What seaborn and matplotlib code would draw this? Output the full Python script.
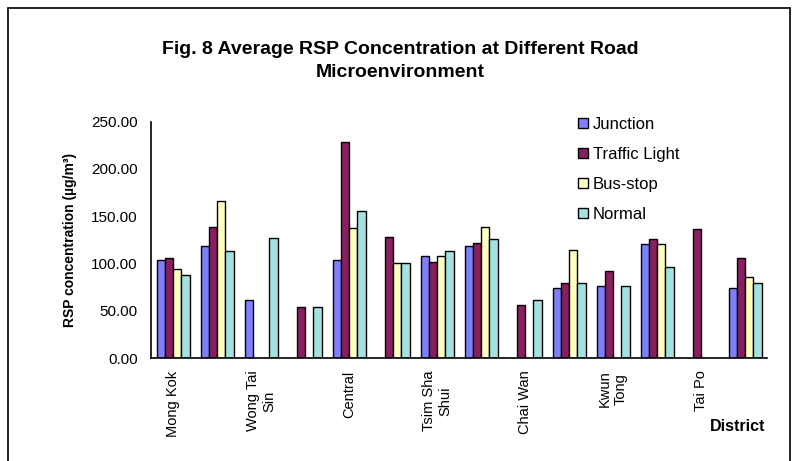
import matplotlib
matplotlib.use('Agg')
import matplotlib.pyplot as plt
import matplotlib.lines as mlines
import numpy as np
import pandas as pd
import seaborn as sns

# 14 sampling districts; Excel only labels every other category
tick_labels = ['Mong Kok', '', 'Wong Tai\nSin', '', 'Central', '', 'Tsim Sha\nShui', '',
               'Chai Wan', '', 'Kwun\nTong', '', 'Tai Po', '']
series = ['Junction', 'Traffic Light', 'Bus-stop', 'Normal']
nan = np.nan
junction = [104, 119, 61, nan, 104, nan, 108, 118, nan, 74, 76, 121, nan, 74]
traffic = [106, 139, nan, 54, 229, 128, 102, 122, 56, 79, 92, 126, 136, 106]
busstop = [94, 166, nan, nan, 138, 100, 108, 139, nan, 114, nan, 121, nan, 86]
normal = [88, 113, 127, 54, 156, 100, 113, 126, 61, 79, 76, 96, nan, 79]
yticks = [0, 50, 100, 150, 200, 250]

colors = {'Junction': '#8080ff', 'Traffic Light': '#862060',
          'Bus-stop': '#ffffc4', 'Normal': '#a4e2e2'}

rows = []
for name, vals in zip(series, [junction, traffic, busstop, normal]):
    for i, v in enumerate(vals):
        rows.append({'site': i, 'type': name, 'value': v})
df = pd.DataFrame(rows)

sns.set_style('white')
plt.rcParams['font.family'] = ['Liberation Sans', 'DejaVu Sans']
for k in ['text.color', 'axes.labelcolor', 'xtick.color', 'ytick.color']:
    plt.rcParams[k] = 'black'

fig = plt.figure(figsize=(8, 4.61), dpi=100)
ax = fig.add_axes([151 / 800, 1 - 358 / 461, 616 / 800, 236.3 / 461])

sns.barplot(data=df, x='site', y='value', hue='type', hue_order=series, palette=colors,
            width=0.75, edgecolor='black', linewidth=1, ax=ax, saturation=1)

ax.set_ylim(0, 250)
ax.set_xlim(-0.5, 13.5)
ax.set_yticks(yticks)
ax.set_yticklabels(['%.2f' % t for t in yticks], fontsize=11)
ax.set_xticks(range(14))
ax.set_xticklabels(tick_labels, rotation=90, fontsize=10.5, va='top', ha='center',
                   multialignment='center')
ax.tick_params(axis='x', which='major', length=0, pad=9)
ax.set_xticks(np.arange(-0.5, 14, 1), minor=True)
ax.tick_params(axis='x', which='minor', length=5, width=1, direction='out', color='black')
ax.tick_params(axis='y', length=9, width=1, direction='inout', color='black', pad=5)
ax.set_xlabel('')
ax.set_ylabel('RSP concentration (µg/m³)', fontsize=10, fontweight='bold', labelpad=10)
for s in ['top', 'right']:
    ax.spines[s].set_visible(False)
for s in ['left', 'bottom']:
    ax.spines[s].set_color('black')
    ax.spines[s].set_linewidth(1.2)

handles, labels = ax.get_legend_handles_labels()
ax.legend(handles, labels, loc='upper left', bbox_to_anchor=(0.675, 1.07), frameon=False,
          fontsize=12, labelspacing=0.9, handlelength=0.55, handleheight=0.55,
          handletextpad=0.3, borderaxespad=0.3)

fig.text(0.5, 1 - 61 / 461, 'Fig. 8 Average RSP Concentration at Different Road\nMicroenvironment',
         ha='center', va='center', fontsize=14, fontweight='bold', linespacing=1.45)
fig.text(765 / 800, 1 - 426 / 461, 'District', ha='right', va='center', fontsize=11.5,
         fontweight='bold')

# chart area border
for xs, ys in [([8, 8], [0, 453]), ([8, 790], [453, 453]), ([790, 790], [453, 0])]:
    fig.add_artist(mlines.Line2D([x / 800 for x in xs], [y / 461 for y in ys],
                                 color='black', lw=1.2))

fig.savefig('out.png', dpi=100)
